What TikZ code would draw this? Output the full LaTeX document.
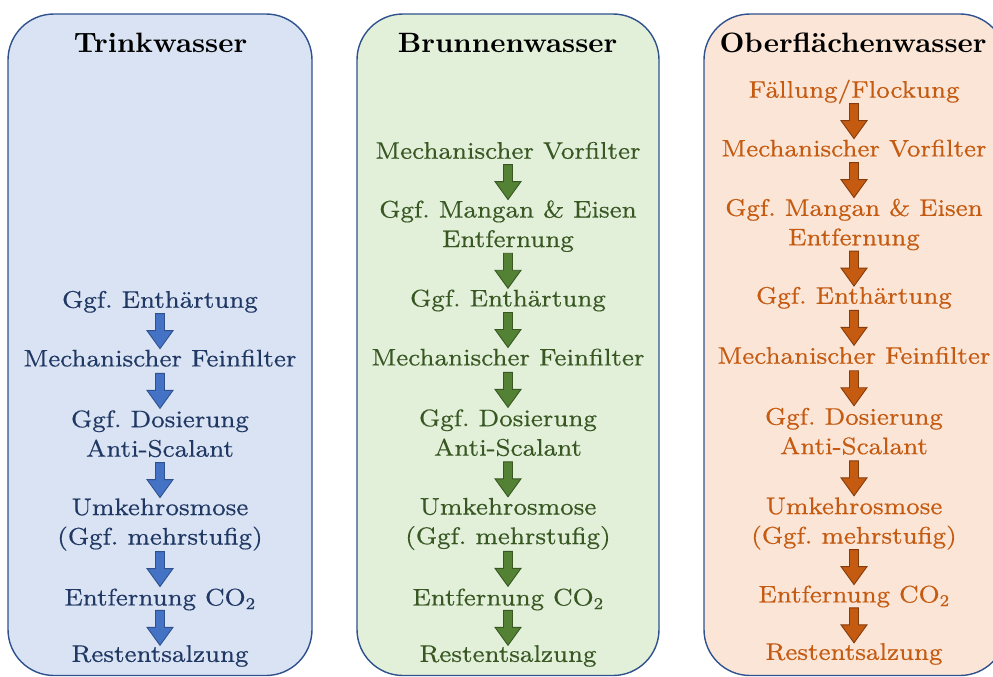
\documentclass[tikz,border=0pt]{standalone}
\usepackage{fontspec}
\newfontfamily\bodyfont{lmroman8-regular.otf}[FakeStretch=1.06, FakeBold=0.4]
\newfontfamily\headfont{lmroman10-bold.otf}[FakeStretch=1.03]
\definecolor{edge}{HTML}{2F528F}
\definecolor{fillA}{HTML}{DAE3F3}
\definecolor{fillB}{HTML}{E2F0D9}
\definecolor{fillC}{HTML}{FBE5D6}
\definecolor{textA}{HTML}{203864}
\definecolor{textB}{HTML}{385723}
\definecolor{textC}{HTML}{C55A11}
\definecolor{arrA}{HTML}{4472C4}
\definecolor{arrB}{HTML}{548235}
\definecolor{arrC}{HTML}{C55A11}
\definecolor{arrCedge}{HTML}{843C0C}
\newcommand\blockarrow[3]{%
  \path (#2.south) -- coordinate[midway] (#2-#3) (#3.north);
  \draw[#1] (#2-#3) ++(-4.5,-17.5) -- ++(9,0) -- ++(0,17) -- ++(8.5,0)
    -- ++(-13,18) -- ++(-13,-18) -- ++(8.5,0) -- cycle;}
\frenchspacing
\begin{document}
\begin{tikzpicture}[x=1pt,y=-1pt,
  panel/.style={draw=edge, line width=1.4pt, rounded corners=46pt},
  headline/.style={anchor=base, inner sep=0pt, font=\headfont\fontsize{28}{32}\selectfont, text=black},
  lbl/.style={inner sep=0pt, align=center, text depth=5pt, font=\bodyfont\fontsize{24}{29.5}\selectfont},
  lblA/.style={lbl, text=textA},
  lblB/.style={lbl, text=textB},
  lblC/.style={lbl, text=textC},
  arrowA/.style={fill=arrA, draw=edge, line width=0.9pt},
  arrowB/.style={fill=arrB, draw=textB, line width=0.9pt},
  arrowC/.style={fill=arrC, draw=arrCedge, line width=0.9pt}]
\useasboundingbox (0,0) rectangle (993,677);
\begin{scope}
\clip (0,0) rectangle (993,677);
\draw[panel, fill=fillA] (8,14) rectangle (312,675.5);
\draw[panel, fill=fillB] (357,14) rectangle (659,675.5);
\draw[panel, fill=fillC] (704,14) rectangle (1006,675.5);
\end{scope}
% titles
\node[headline] (hA) at (160.5,52.7) {Trinkwasser};
\node[headline] (hB) at (507.5,52.7) {Brunnenwasser};
\node[headline] (hC) at (853,52.7) {Oberflächenwasser};
% Trinkwasser
\node[lblA] (a1) at (160,301.8) {Ggf. Enthärtung};
\node[lblA] (a2) at (160,360.5) {Mechanischer Feinfilter};
\node[lblA] (a3) at (160,436) {Ggf. Dosierung\\Anti-Scalant};
\node[lblA] (a4) at (160,524) {Umkehrosmose\\(Ggf. mehrstufig)};
\node[lblA] (a5) at (160,599.5) {Entfernung CO\textsubscript{2}};
\node[lblA] (a6) at (160,656) {Restentsalzung};
\blockarrow{arrowA}{a1}{a2}
\blockarrow{arrowA}{a2}{a3}
\blockarrow{arrowA}{a3}{a4}
\blockarrow{arrowA}{a4}{a5}
\blockarrow{arrowA}{a5}{a6}
% Brunnenwasser
\node[lblB] (b1) at (508,152.8) {Mechanischer Vorfilter};
\node[lblB] (b2) at (508,226.2) {Ggf. Mangan \& Eisen\\Entfernung};
\node[lblB] (b3) at (508,300.5) {Ggf. Enthärtung};
\node[lblB] (b4) at (508,359.5) {Mechanischer Feinfilter};
\node[lblB] (b5) at (508,435) {Ggf. Dosierung\\Anti-Scalant};
\node[lblB] (b6) at (508,523.5) {Umkehrosmose\\(Ggf. mehrstufig)};
\node[lblB] (b7) at (508,599.5) {Entfernung CO\textsubscript{2}};
\node[lblB] (b8) at (508,656) {Restentsalzung};
\blockarrow{arrowB}{b1}{b2}
\blockarrow{arrowB}{b2}{b3}
\blockarrow{arrowB}{b3}{b4}
\blockarrow{arrowB}{b4}{b5}
\blockarrow{arrowB}{b5}{b6}
\blockarrow{arrowB}{b6}{b7}
\blockarrow{arrowB}{b7}{b8}
% Oberflaechenwasser
\node[lblC] (c1) at (854,91.2) {Fällung/Flockung};
\node[lblC] (c2) at (854,150.5) {Mechanischer Vorfilter};
\node[lblC] (c3) at (854,224.5) {Ggf. Mangan \& Eisen\\Entfernung};
\node[lblC] (c4) at (854,297.8) {Ggf. Enthärtung};
\node[lblC] (c5) at (854,357.8) {Mechanischer Feinfilter};
\node[lblC] (c6) at (854,433.5) {Ggf. Dosierung\\Anti-Scalant};
\node[lblC] (c7) at (854,523) {Umkehrosmose\\(Ggf. mehrstufig)};
\node[lblC] (c8) at (854,596.5) {Entfernung CO\textsubscript{2}};
\node[lblC] (c9) at (854,654) {Restentsalzung};
\blockarrow{arrowC}{c1}{c2}
\blockarrow{arrowC}{c2}{c3}
\blockarrow{arrowC}{c3}{c4}
\blockarrow{arrowC}{c4}{c5}
\blockarrow{arrowC}{c5}{c6}
\blockarrow{arrowC}{c6}{c7}
\blockarrow{arrowC}{c7}{c8}
\blockarrow{arrowC}{c8}{c9}
\end{tikzpicture}
\end{document}
